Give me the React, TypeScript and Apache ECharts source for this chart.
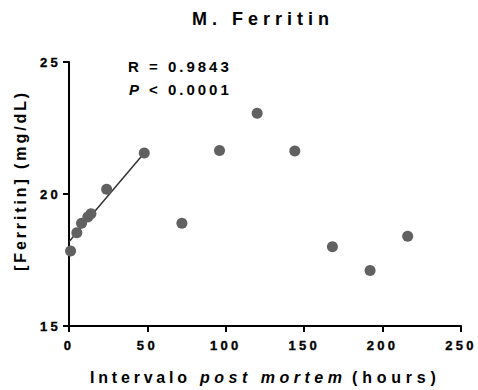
import React, { useEffect, useRef } from "react";
import * as echarts from "echarts";

const hours = [1, 5, 8, 12, 14, 24, 48, 72, 96, 120, 144, 168, 192, 216];
const ferritin = [17.84, 18.53, 18.89, 19.13, 19.25, 20.18, 21.55, 18.89, 21.65, 23.06, 21.63, 18.0, 17.1, 18.4];
const fitHours = [0, 48];
const fitValues = [18.19, 21.55];
const xTicks = [0, 50, 100, 150, 200, 250];
const yTicks = [15, 20, 25];

const FONT = "'Liberation Sans', Arial, sans-serif";

const spacingMap: Record<string, number> = {
  "M. Ferritin": 5,
  "R = 0.9843": 3,
  "P": 3,
  "< 0.0001": 3,
  "[Ferritin] (mg/dL)": 2.9,
  "Intervalo": 3.8,
  "post mortem": 4.5,
  "(hours)": 4.8,
};

export default function App() {
  const ref = useRef<HTMLDivElement>(null);
  useEffect(() => {
    if (!ref.current) return;
    const chart = echarts.init(ref.current, null, { renderer: "svg" });
    const txt = (text: string, x: number, y: number, size: number, extra: any = {}) => ({
      type: "text",
      x,
      y,
      style: {
        text,
        fontFamily: FONT,
        fontWeight: "bold",
        fontSize: size,
        fill: "#000",
        textAlign: "left",
        textVerticalAlign: "middle",
        ...(extra.style || {}),
      },
      ...(extra.el || {}),
    });
    const labelStyle = {
      color: "#000",
      fontFamily: FONT,
      fontWeight: 700,
      fontSize: 13,
      opacity: 1,
    };
    chart.setOption({
      animation: false,
      grid: { left: 69, top: 62, width: 392, height: 264, containLabel: false },
      xAxis: {
        type: "value",
        min: xTicks[0],
        max: xTicks[xTicks.length - 1],
        interval: 50,
        axisLine: { show: true, lineStyle: { color: "#000", width: 2 } },
        axisTick: { show: true, length: 6, lineStyle: { color: "#000", width: 2 } },
        axisLabel: { ...labelStyle, margin: 13, formatter: (v: number) => String(v) },
        splitLine: { show: false },
      },
      yAxis: {
        type: "value",
        min: yTicks[0],
        max: yTicks[yTicks.length - 1],
        interval: 5,
        axisLine: { show: true, lineStyle: { color: "#000", width: 2 } },
        axisTick: { show: true, length: 6, lineStyle: { color: "#000", width: 2 } },
        axisLabel: { ...labelStyle, margin: 8 },
        splitLine: { show: false },
      },
      series: [
        {
          type: "line",
          data: fitHours.map((h, i) => [h, fitValues[i]]),
          symbol: "none",
          lineStyle: { color: "#333", width: 1.5 },
          z: 2,
        },
        {
          type: "scatter",
          data: hours.map((h, i) => [h, ferritin[i]]),
          symbol: "circle",
          symbolSize: 11,
          itemStyle: { color: "#616161", opacity: 1 },
          z: 3,
        },
      ],
      graphic: [
        txt("M. Ferritin", 192, 19, 18),
        txt("R = 0.9843", 128, 66, 15),
        txt("P", 129, 89, 15, { style: { fontStyle: "italic" } }),
        txt("< 0.0001", 149, 89, 15),
        txt("[Ferritin] (mg/dL)", 20, 271, 16, { el: { rotation: Math.PI / 2 } }),
        txt("Intervalo", 90, 377, 16),
        txt("post mortem", 200, 377, 16, { style: { fontStyle: "italic" } }),
        txt("(hours)", 352, 377, 16),
      ],
    });
    const applySpacing = () => {
      const root = ref.current;
      if (!root) return;
      root.querySelectorAll("text").forEach((t) => {
        const content = (t.textContent || "").trim();
        const isTick = spacingMap[content] === undefined;
        const s = isTick ? 3.3 : spacingMap[content];
        t.setAttribute("letter-spacing", s + "px");
        t.setAttribute("font-weight", "700");
        t.setAttribute("fill", "#000");
        const st = (t as any).style;
        st.letterSpacing = s + "px";
        st.fontWeight = "700";
        st.fill = "#000";
        st.fillOpacity = "1";
        st.opacity = "1";
        if (isTick) {
          st.stroke = "#000";
          st.strokeWidth = "0.35px";
        }
      });
    };
    applySpacing();
    chart.on("finished", applySpacing);
    const tm = setTimeout(applySpacing, 50);
    return () => {
      clearTimeout(tm);
      chart.dispose();
    };
  }, []);
  return (
    <div
      ref={ref}
      style={{ position: "fixed", left: 0, top: 0, width: 478, height: 390, background: "#fff" }}
    />
  );
}
